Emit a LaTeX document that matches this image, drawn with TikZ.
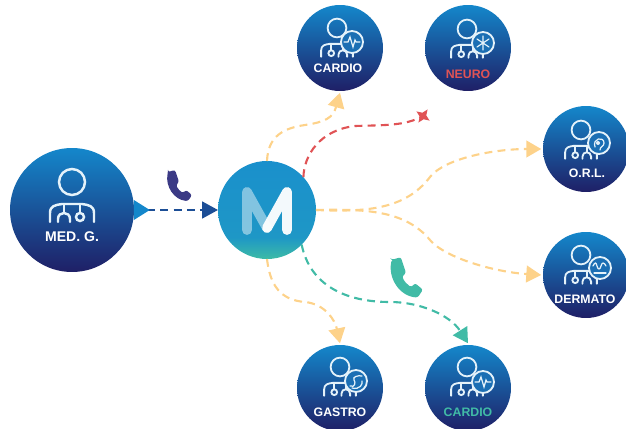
\documentclass[tikz,border=0pt]{standalone}
\usepackage{fontspec}
\setmainfont{Liberation Sans}
\usepackage{tikz}
\usetikzlibrary{positioning}
\usetikzlibrary{arrows.meta}
\usetikzlibrary{shapes.geometric}

\definecolor{topblue}{HTML}{1487CB}
\definecolor{deepblue}{HTML}{1F1F66}
\definecolor{hubblue}{HTML}{1A90CC}
\definecolor{hubmid}{HTML}{1E97C6}
\definecolor{hubteal}{HTML}{3DBBA6}
\definecolor{flowblue}{HTML}{1C4E96}
\definecolor{flowyellow}{HTML}{FDD28A}
\definecolor{flowred}{HTML}{E05355}
\definecolor{flowteal}{HTML}{41BBA6}
\definecolor{phoneblue}{HTML}{3B3A85}
\definecolor{badgeblue}{HTML}{1B6FB4}
\definecolor{iconwhite}{HTML}{E4F2FA}

\pgfdeclareverticalshading{hubshade}{100bp}{color(0bp)=(hubteal); color(25bp)=(hubteal); color(36bp)=(hubmid); color(75bp)=(hubblue); color(100bp)=(hubblue)}

\tikzset{
    specialist/.style={circle, minimum size=1.72cm, inner sep=0, outer sep=1pt, shading=axis, top color=topblue, bottom color=deepblue},
    generalist/.style={specialist, minimum size=2.48cm, outer sep=0},
    hub/.style={circle, minimum size=1.96cm, inner sep=0, outer sep=0, shading=hubshade},
    spectext/.style={inner sep=0, text=white, font=\bfseries\fontsize{7}{8}\selectfont},
    icon/.style={draw=iconwhite, line width=1.05pt, line cap=round},
    flow/.style={dashed, dash pattern=on 4.5pt off 3pt, line width=1.2pt, -{Triangle[length=8.5pt,width=9.5pt]}},
    doctor/.pic={
        \path[icon] (0,0) circle (13);
        \path[icon] (-22,40) -- (-22,31) .. controls (-22,24) and (-17,23) .. (-10,22) -- (10,22) .. controls (17,23) and (22,24) .. (22,31) -- (22,40);
        \path[icon] (-14,40) -- (-14,37) .. controls (-14,29) and (-2,29) .. (-2,37) -- (-2,40);
        \path[icon] (-8,22) -- (-8,30);
        \path[icon] (8,22) -- (8,31);
        \path[icon] (8,35) circle (4);
    },
    badge/.pic={
        \path[icon, fill=badgeblue] (0,0) circle (11);
    },
    phone/.pic={
        \path[pic actions, rounded corners=1.2pt] (-11,-14) -- (-4,-16) -- (0,-4) -- (-3,-1) .. controls (-1,3) and (1,5) .. (4,7) -- (7,4) -- (13,9) -- (9,15) .. controls (-5,14) and (-14,0) .. cycle;
    }
}

\begin{document}
\begin{tikzpicture}[x=0.02cm, y=-0.02cm]
    \useasboundingbox (0,0) rectangle (626,429);

    % circles
    \node[generalist] (medg) at (72,210) {};
    \node[hub] (hub) at (267,210) {};
    \node[specialist] (cardiotop) at (340,48) {};
    \node[specialist] (neuro) at (468,48) {};
    \node[specialist] (orl) at (586,149) {};
    \node[specialist] (dermato) at (586,275) {};
    \node[specialist] (gastro) at (340,388) {};
    \node[specialist] (cardiobot) at (468,388) {};
    \node[star, star points=4, star point ratio=2.4, minimum size=0.32cm, inner sep=0, fill=flowred, rotate=55] (neurostop) at (423,116) {};

    % connectors
    \path[draw=flowblue, flow, {Triangle[reversed,length=9pt,width=11pt,color=topblue]}-{Triangle[length=9pt,width=9.5pt]}] (medg.east) -- (hub.west);
    \path[draw=flowyellow, flow] (hub.north) .. controls (268,135) and (285,128) .. (305,125) .. controls (325,122) and (333,118) .. (cardiotop.south);
    \path[draw=flowred, dashed, dash pattern=on 4.5pt off 3pt, line width=1.2pt] (hub.42) .. controls (304,155) and (320,130) .. (355,126) .. controls (385,125) and (405,126) .. (neurostop.center);
    \path[draw=flowyellow, flow] (hub.east) .. controls (365,212) and (405,210) .. (430,177) .. controls (445,158) and (495,149) .. (orl.west);
    \path[draw=flowyellow, flow] (hub.east) .. controls (365,209) and (405,210) .. (430,240) .. controls (445,258) and (495,272) .. (dermato.west);
    \path[draw=flowteal, flow] (hub.-45) .. controls (310,285) and (345,302) .. (390,302) .. controls (420,302) and (450,315) .. (cardiobot.north);
    \path[draw=flowyellow, flow] (hub.south) .. controls (270,285) and (280,300) .. (305,302) .. controls (325,304) and (335,320) .. (gastro.north);

    % phones
    \pic[fill=phoneblue] at (179,186) {phone};
    \pic[fill=flowteal, scale=1.3] at (406,278) {phone};

    % logo
    \path[draw=white, opacity=0.45, line width=5.6pt, line cap=round, line join=round] (247,230) -- (247,192) -- (267,228);
    \path[draw=white, opacity=0.95, line width=5.6pt, line cap=round, line join=round] (267,228) -- (287,192) -- (287,230);

    % doctors
    \begin{scope}[icon/.append style={line width=1.4pt}]
        \pic at (72,182) {doctor};
    \end{scope}
    \pic[scale=0.72, xscale=-1] at (337,28) {doctor};
    \pic[scale=0.72, xscale=-1] at (467,29) {doctor};
    \pic[scale=0.72, xscale=-1] at (581,130) {doctor};
    \pic[scale=0.72, xscale=-1] at (581,255) {doctor};
    \pic[scale=0.72, xscale=-1] at (340,367) {doctor};
    \pic[scale=0.72, xscale=-1] at (467,367) {doctor};

    % badges
    \pic at (352,42) {badge};
    \pic at (483,43) {badge};
    \pic at (599,143) {badge};
    \pic at (600,268) {badge};
    \pic at (356,381) {badge};
    \pic at (483,382) {badge};

    % badge signs
    \path[icon, line width=0.7pt] (344,42) -- (348,42) -- (350,37) -- (353,47) -- (355,40) -- (356,42) -- (360,42);
    \path[icon, line width=0.7pt] (483,36) -- (483,50) (477,39) -- (489,47) (477,47) -- (489,39);
    \path[icon, line width=0.7pt] (595,147) .. controls (592,138) and (604,136) .. (604,143) .. controls (604,147) and (600,146) .. (600,150);
    \path[fill=iconwhite] (598,143) circle (2);
    \path[icon, line width=0.7pt] (593,266) .. controls (595,262) and (596,262) .. (597,266) .. controls (598,270) and (600,270) .. (601,266) .. controls (602,262) and (604,262) .. (606,266);
    \path[icon, line width=0.7pt] (594,273) -- (606,273);
    \path[icon, line width=0.7pt] (350,386) .. controls (355,388) and (356,382) .. (354,380) .. controls (352,377) and (358,375) .. (362,376);
    \path[icon, line width=0.7pt] (352,388) .. controls (360,390) and (363,384) .. (362,381);
    \path[icon, line width=0.7pt] (475,382) -- (479,382) -- (481,377) -- (484,387) -- (486,380) -- (487,382) -- (491,382);

    % labels
    \node[spectext, font=\bfseries\fontsize{8}{9}\selectfont] (medglabel) at (72,237) {MED. G.};
    \node[spectext] (cardiotoplabel) at (338,68) {CARDIO};
    \node[spectext, text=flowred] (neurolabel) at (468,74) {NEURO};
    \node[spectext] (orllabel) at (587,173) {O.R.L.};
    \node[spectext] (dermatolabel) at (585,299) {DERMATO};
    \node[spectext] (gastrolabel) at (340,412) {GASTRO};
    \node[spectext, text=flowteal] (cardiobotlabel) at (468,412) {CARDIO};
\end{tikzpicture}
\end{document}
